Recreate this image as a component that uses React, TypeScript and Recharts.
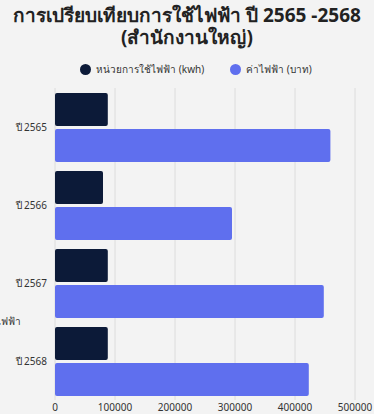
import React from "react";
import { BarChart, Bar, XAxis, YAxis, CartesianGrid } from "recharts";

const categories = ["ปี 2565", "ปี 2566", "ปี 2567", "ปี 2568"];
const unitsKwh = [88000, 80000, 88000, 88000];
const costBaht = [459000, 295000, 448000, 423000];
const xTicks = [0, 100000, 200000, 300000, 400000, 500000];
const seriesNames = ["หน่วยการใช้ไฟฟ้า (kwh)", "ค่าไฟฟ้า (บาท)"];
const seriesColors = ["#0c1a38", "#5f6fee"];

const data = categories.map((c, i) => ({ name: c, units: unitsKwh[i], cost: costBaht[i] }));

const FONT = '"Noto Sans", "DejaVu Sans", sans-serif';

export default function App() {
  return (
    <div style={{ position: "absolute", left: 0, top: 0, width: 374, height: 414, background: "#f3f3f3", overflow: "hidden", fontFamily: FONT }}>
      <div style={{ position: "absolute", left: 0, top: 5, width: 374, textAlign: "center", fontWeight: 700, fontSize: 19, lineHeight: "20px", color: "#222", whiteSpace: "nowrap" }}>
        การเปรียบเทียบการใช้ไฟฟ้า ปี 2565 -2568
      </div>
      <div style={{ position: "absolute", left: 0, top: 27, width: 374, textAlign: "center", fontWeight: 700, fontSize: 19, lineHeight: "20px", color: "#222", whiteSpace: "nowrap" }}>
        (สำนักงานใหญ่)
      </div>
      <div style={{ position: "absolute", left: 0, top: 62, width: 374, display: "flex", justifyContent: "center", alignItems: "center", fontSize: 10, color: "#333", paddingLeft: 18, boxSizing: "border-box" }}>
        {seriesNames.map((n, i) => (
          <div key={n} style={{ display: "flex", alignItems: "center", marginRight: i === 0 ? 26 : 0 }}>
            <span style={{ display: "inline-block", width: 11, height: 11, borderRadius: "50%", background: seriesColors[i], marginRight: 5 }} />
            <span>{n}</span>
          </div>
        ))}
      </div>
      <div style={{ position: "absolute", left: -80, top: 314, width: 101, textAlign: "right", fontSize: 10, color: "#333" }}>
        ค่าไฟฟ้า
      </div>
      <BarChart
        width={374}
        height={414}
        data={data}
        layout="vertical"
        margin={{ top: 88, right: 19, bottom: 0, left: 0 }}
        barSize={33}
        barGap={3}
        style={{ position: "absolute", left: 0, top: 0 }}
      >
        <CartesianGrid horizontal={false} stroke="#dcdcdc" />
        <XAxis
          type="number"
          domain={[0, 500000]}
          ticks={xTicks}
          height={14}
          tickLine={false}
          axisLine={false}
          tickSize={2}
          tick={{ fontSize: 10, fill: "#333", fontFamily: FONT }}
          interval={0}
        />
        <YAxis
          type="category"
          dataKey="name"
          width={55}
          tickLine={false}
          axisLine={false}
          tick={{ fontSize: 10, fill: "#333", fontFamily: FONT }}
        />
        <Bar dataKey="units" name={seriesNames[0]} fill={seriesColors[0]} radius={2} isAnimationActive={false} />
        <Bar dataKey="cost" name={seriesNames[1]} fill={seriesColors[1]} radius={2} isAnimationActive={false} />
      </BarChart>
    </div>
  );
}
